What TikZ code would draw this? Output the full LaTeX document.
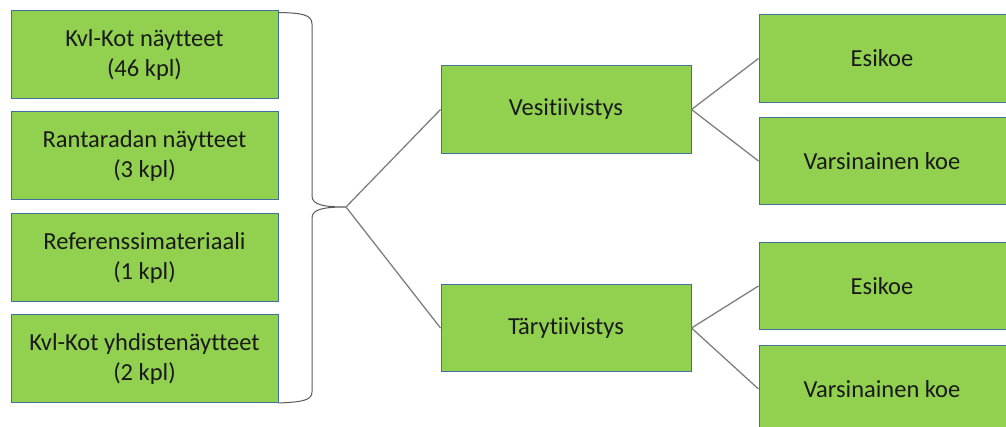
\documentclass[tikz,border=0pt]{standalone}
\usepackage{fontspec}
\setmainfont{Carlito}[Ligatures=NoCommon]
\definecolor{boxgreen}{HTML}{92D050}
\definecolor{boxedge}{HTML}{41719C}
\definecolor{linkgray}{HTML}{7F7F7F}
\definecolor{bracegray}{HTML}{595959}
\begin{document}
\begin{tikzpicture}[x=1pt,y=-1pt,
  box/.style={draw=boxedge, fill=boxgreen, line width=1pt, inner sep=0pt,
    align=center, text=black!90, font=\fontsize{24.5}{30}\selectfont},
  srcbox/.style={box, minimum width=267pt, minimum height=88pt},
  midbox/.style={box, minimum width=250pt, minimum height=87.5pt},
  % the test boxes run on past the right edge; their text sits left of centre
  endbox/.style={box, minimum width=281pt, minimum height=87.5pt,
    execute at begin node={\hspace*{-35pt}}},
  link/.style={draw=linkgray, line width=1.3pt},
  bracepath/.style={draw=bracegray, line width=1pt}]
\clip (0,0) rectangle (1006,427);

% sample groups
\node[srcbox] (s1) at (144.5,55)    {Kvl-Kot näytteet\\(46 kpl)};
\node[srcbox] (s2) at (144.5,156)   {Rantaradan näytteet\\(3 kpl)};
\node[srcbox] (s3) at (144.5,257.5) {Referenssimateriaali\\(1 kpl)};
\node[srcbox] (s4) at (144.5,358.5) {Kvl-Kot yhdistenäytteet\\(2 kpl)};

% compaction methods
\node[midbox] (ves) at (566,109.5) {Vesitiivistys};
\node[midbox] (tar) at (566,328)   {Tärytiivistys};

% tests
\node[endbox] (e1) at (899.5,58.5) {Esikoe};
\node[endbox] (v1) at (899.5,161)  {Varsinainen koe};
\node[endbox] (e2) at (899.5,286)  {Esikoe};
\node[endbox] (v2) at (899.5,389)  {Varsinainen koe};

% curly brace grouping the samples
\coordinate (tip) at (346,207);
\path[bracepath] (s1.north east) ++(0,2)
  .. controls (300,13) and (312,14) .. (312,24) -- (312,196)
  .. controls (312,205) and (324,207) .. (tip)
  .. controls (324,207) and (312,209) .. (312,218) -- (312,392)
  .. controls (312,401) and (300,402) .. (s4.south east);

% connectors
\draw[link] (tip) -- (ves.west);
\draw[link] (tip) -- (tar.west);
\draw[link] (ves.east) -- (e1.west);
\draw[link] (ves.east) -- (v1.west);
\draw[link] (tar.east) -- (e2.west);
\draw[link] (tar.east) -- (v2.west);
\end{tikzpicture}
\end{document}
